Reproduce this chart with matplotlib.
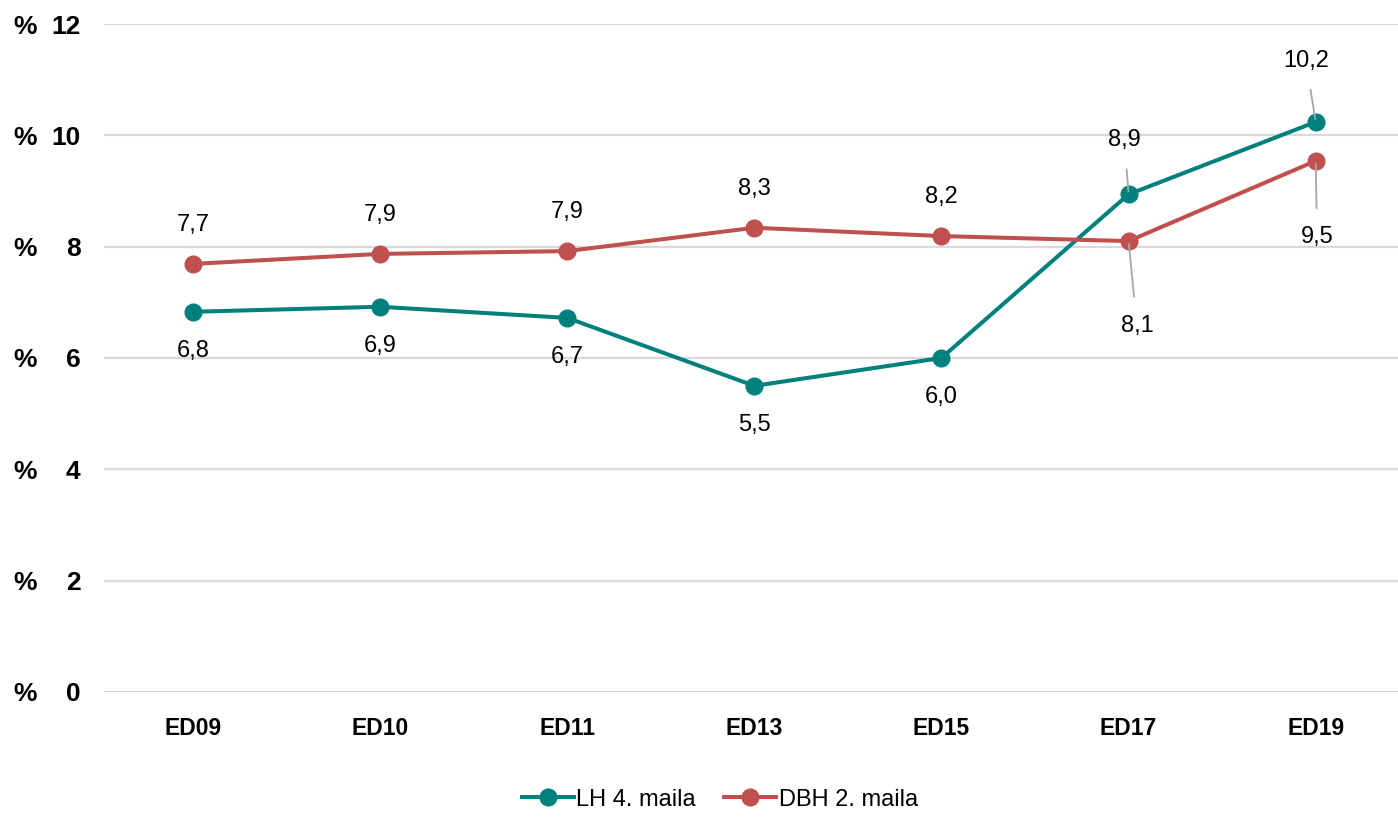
import matplotlib
matplotlib.use("Agg")
import matplotlib.pyplot as plt
import matplotlib.transforms as mtransforms
from matplotlib import font_manager

categories = ["ED09", "ED10", "ED11", "ED13", "ED15", "ED17", "ED19"]
lh_values = [6.83, 6.92, 6.72, 5.50, 6.00, 8.94, 10.24]
dbh_values = [7.69, 7.87, 7.92, 8.34, 8.19, 8.10, 9.54]
series_names = ["LH 4. maila", "DBH 2. maila"]
y_ticks = [0, 2, 4, 6, 8, 10, 12]

names = {f.name for f in font_manager.fontManager.ttflist}
fam = ["Liberation Sans Narrow", "Liberation Sans", "DejaVu Sans"] if "Liberation Sans Narrow" in names else ["Liberation Sans", "DejaVu Sans"]
plt.rcParams["font.family"] = fam

teal = "#00807D"
red = "#C0504D"
grid_c = "#D9D9D9"
lead_c = "#A6A6A6"

fig = plt.figure(figsize=(13.98, 8.22), dpi=100)
ax = fig.add_axes([0.0744, 0.1582, 0.9256, 0.8126])
x = list(range(len(categories)))

ax.plot(x, lh_values, color=teal, lw=2.9, marker="o", ms=12, label=series_names[0], zorder=3)
ax.plot(x, dbh_values, color=red, lw=2.9, marker="o", ms=12, label=series_names[1], zorder=3)

ax.set_xlim(-0.476, 6.44)
ax.set_ylim(0, 12)
ax.set_yticks(y_ticks)
ax.set_yticklabels([str(t) for t in y_ticks], fontsize=19, fontweight="bold")
ax.set_xticks(x)
ax.set_xticklabels(categories, fontsize=16.5, fontweight="bold")
ax.tick_params(axis="y", length=0, pad=17)
ax.tick_params(axis="x", length=0, pad=18)
for s in ax.spines.values():
    s.set_visible(False)
ax.yaxis.grid(True, color=grid_c, lw=1.6)
ax.set_axisbelow(True)

trans = mtransforms.blended_transform_factory(ax.transAxes, ax.transData)
for t in y_ticks:
    ax.text(-0.0703, t, "%", transform=trans, ha="left", va="center_baseline",
            fontsize=19, fontweight="bold")

def fmt(v):
    return f"{v:.1f}".replace(".", ",")

# offsets in points (dx, dy); positive dy = up
lh_off = [(0, -28), (0, -28), (0, -28), (0, -28), (0, -28), (-3, 39), (-7, 44)]
dbh_off = [(0, 28), (0, 28), (0, 28), (0, 28), (0, 28), (6, -61), (1, -55)]
leader = [False, False, False, False, False, True, True]

for i in x:
    for vals, offs in ((lh_values, lh_off), (dbh_values, dbh_off)):
        dx, dy = offs[i]
        kw = {}
        if leader[i]:
            kw["arrowprops"] = dict(arrowstyle="-", color=lead_c, lw=1.3,
                                    shrinkA=11, shrinkB=2)
        ax.annotate(fmt(vals[i]), (i, vals[i]), xytext=(dx, dy), textcoords="offset points",
                    ha="center", va="center", fontsize=17, **kw)

leg = fig.legend(loc="lower center", bbox_to_anchor=(0.515, -0.012), ncol=2, frameon=False,
                 fontsize=17, handlelength=2.2, columnspacing=1.2, handletextpad=0.1)

fig.savefig("out.png", dpi=100)
